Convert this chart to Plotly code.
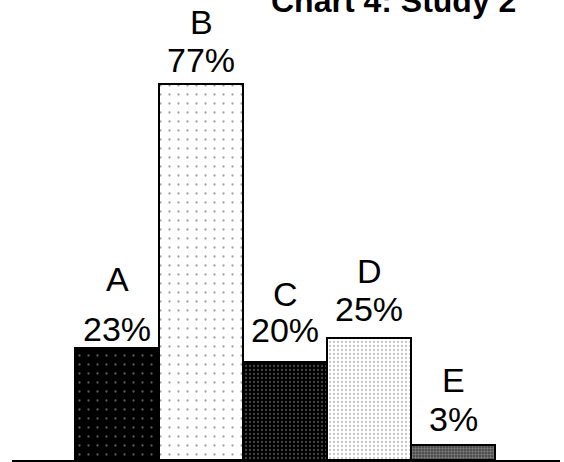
import plotly.graph_objects as go

categories = ["A", "B", "C", "D", "E"]
values = [23, 77, 20, 25, 3]
value_labels = ["23%", "77%", "20%", "25%", "3%"]
title_text = "Chart 4: Study 2"

# styles (not data)
pattern_bg = ["#000000", "#ffffff", "#000000", "#ffffff", "#404040"]
pattern_fg = ["#b8b8b8", "#444444", "#8a8a8a", "#8a8a8a", "#b8b8b8"]
pattern_size = [9, 9, 4, 4, 3]
pattern_solid = [0.05, 0.05, 0.25, 0.25, 0.5]
pct_shift = [-2, 3, 11, 8, 5]
letter_gap = [50, 38, 36, 38, 39]

FONT = "Liberation Sans, Arial, Helvetica, sans-serif"
LABEL_SIZE = 34

fig = go.Figure()
for i, c in enumerate(categories):
    fig.add_trace(go.Bar(
        x=[c], y=[values[i]],
        marker=dict(
            color=pattern_bg[i],
            line=dict(color="black", width=2),
            pattern=dict(shape=".", bgcolor=pattern_bg[i], fgcolor=pattern_fg[i],
                         size=pattern_size[i], solidity=pattern_solid[i]),
        ),
        width=1.0,
        showlegend=False,
        hoverinfo="skip",
    ))

annotations = []
for i, c in enumerate(categories):
    annotations.append(dict(x=c, y=values[i], xref="x", yref="y", text=value_labels[i],
                            showarrow=False, yanchor="bottom", yshift=pct_shift[i],
                            font=dict(family=FONT, size=LABEL_SIZE, color="black")))
    annotations.append(dict(x=c, y=values[i], xref="x", yref="y", text=c,
                            showarrow=False, yanchor="bottom",
                            yshift=pct_shift[i] + letter_gap[i],
                            font=dict(family=FONT, size=LABEL_SIZE, color="black")))

pw = 564 - 12 - 4
ph = 462 - 0 - 2
annotations.append(dict(x=(393.5 - 12) / pw, y=1 - 0.5 / ph, xref="paper", yref="paper",
                        text="<b>" + title_text + "</b>",
                        showarrow=False, xanchor="center", yanchor="middle",
                        font=dict(family=FONT, size=32, color="black")))

fig.update_layout(
    width=564, height=462,
    margin=dict(l=12, r=4, t=0, b=2),
    paper_bgcolor="white", plot_bgcolor="white",
    bargap=0,
    barmode="overlay",
    xaxis=dict(range=[-1.25, 5.27], showticklabels=False, ticks="", showgrid=False,
               zeroline=False, showline=True, linecolor="black", linewidth=2),
    yaxis=dict(range=[0, 94.26], visible=False, showgrid=False, zeroline=False),
    annotations=annotations,
)
fig.write_html("out.html", config={"displayModeBar": False},
               post_script="document.body.style.margin='0';document.body.style.padding='0';")
